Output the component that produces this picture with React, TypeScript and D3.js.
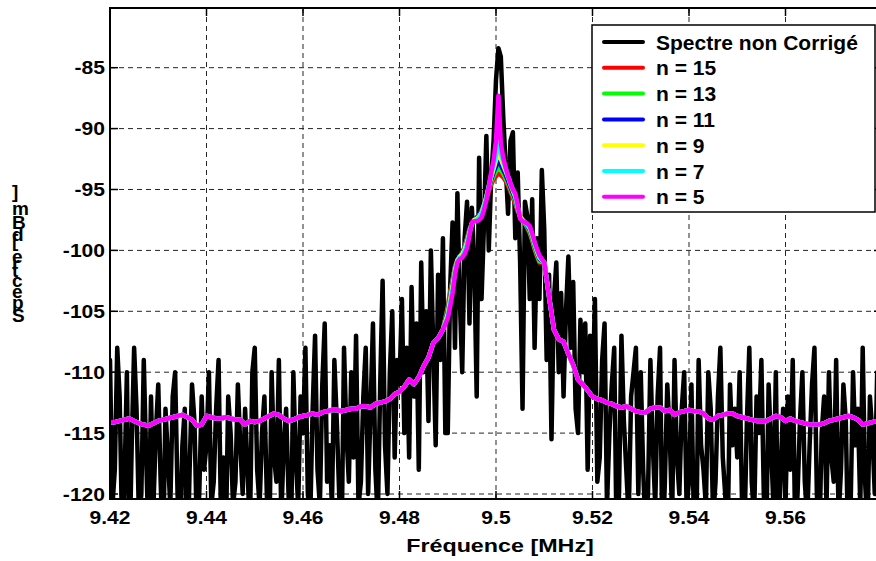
import React from 'react';
import * as d3 from 'd3';

const W = 876;
const H = 561;

// ---------- axis data ----------
const xTicks = [9.42, 9.44, 9.46, 9.48, 9.5, 9.52, 9.54, 9.56];
const xTickLabels = ['9.42', '9.44', '9.46', '9.48', '9.5', '9.52', '9.54', '9.56'];
const yTicks = [-85, -90, -95, -100, -105, -110, -115, -120];
const yTickLabels = ['-85', '-90', '-95', '-100', '-105', '-110', '-115', '-120'];
const xLabel = 'Fréquence [MHz]';
const yLabel = 'Spectre [dBm]';

// ---------- raw spectrum (step 0.0005 MHz from 9.42) ----------
const blackStart = 9.42;
const blackStep = 0.0005;
const rawSpectrum = [
  // 9.420
  -109, -121, -118, -108, -112, -123, -119, -110, -126, -116, -108, -113, -122, -120, -109, -117, -124, -112, -121, -115,
  // 9.430
  -111, -119, -125, -113, -117, -121, -112, -110, -120, -124, -116, -113, -127, -118, -111, -114, -123, -120, -112, -118,
  // 9.440
  -116, -110, -121, -119, -113, -109, -122, -117, -124, -112, -115, -121, -119, -111, -116, -120, -113, -118, -123, -110,
  // 9.450
  -108, -118, -121, -115, -112, -120, -125, -110, -117, -119, -109, -122, -116, -113, -120, -124, -110, -117, -121, -112,
  // 9.460
  -115, -108, -120, -122, -113, -107, -118, -121, -111, -106, -119, -116, -121, -109, -114, -120, -124, -108, -115, -119,
  // 9.470
  -110, -117, -107, -121, -119, -112, -108, -120, -113, -106, -118, -122, -111, -102.5, -116, -120, -110, -105, -117, -109,
  // 9.480
  -111, -104, -115, -108, -117, -103, -112, -106, -118, -101, -110, -105, -114, -100, -108, -116, -102, -109, -99, -115,
  // 9.490
  -115, -103, -97.7, -108, -95.3, -104, -110, -99, -96, -106, -96.5, -101, -112, -92.4, -104, -98, -90.6, -100, -94, -91,
  // 9.500
  -86, -83.4, -84.1, -89, -93, -97, -91, -90.3, -99, -93.6, -101, -113, -96, -97.2, -104, -95.8, -108, -99, -104, -93.4,
  // 9.510
  -98.3, -109, -102, -115.5, -104, -101, -110, -103.5, -112, -105, -100.5, -108, -102.6, -113, -115, -105.7, -110, -106, -118, -107,
  // 9.520
  -112, -104, -119, -117, -109, -106, -121, -115, -111, -108, -124, -120, -107, -114, -118, -122, -112, -110, -108, -120,
  // 9.530
  -110, -118, -123, -120, -109, -116, -121, -112, -108, -125, -119, -111, -115, -122, -109, -117, -120, -113, -110, -121,
  // 9.540
  -119, -111, -122, -124, -109, -116, -118, -121, -110, -113, -122, -119, -112, -108, -117, -120, -124, -111, -116, -113,
  // 9.550
  -117, -110, -121, -123, -114, -108, -119, -122, -112, -115, -109, -120, -124, -111, -116, -121, -110, -125, -118, -113,
  // 9.560
  -121, -112, -118, -109, -123, -120, -114, -110, -119, -122, -116, -111, -108, -120, -124, -115, -112, -121, -110, -117,
  // 9.570
  -119, -109, -122, -118, -111, -114, -125, -121, -110, -116, -113, -121, -108, -119, -123, -112, -115, -120, -110, -123, -116,
];

// ---------- smoothed spectra ----------
// wings shared (9.420 .. 9.489, step 0.001)
const wingLeft = [
  -114.1, -114.1, -114.0, -113.9, -113.8, -114.0, -114.2, -114.3, -114.4, -114.2,
  -114.0, -113.9, -113.8, -113.7, -113.6, -113.5, -113.7, -113.9, -114.4, -114.3,
  -113.6, -113.7, -113.8, -113.8, -113.7, -113.8, -113.9, -113.9, -114.3, -114.0,
  -114.1, -114.0, -113.8, -113.6, -113.4, -113.5, -113.8, -114.0, -113.9, -113.7,
  -113.6, -113.5, -113.4, -113.5, -113.3, -113.2, -113.1, -113.1, -113.2, -113.1,
  -113.0, -113.0, -112.8, -112.8, -112.9, -112.6, -112.5, -112.4, -112.2, -111.8,
  -111.6, -111.2, -110.6, -111.0, -110.4, -109.5, -108.8, -107.6, -107.2, -106.5,
];
// wings shared (9.510 .. 9.580, step 0.001)
const wingRight = [
  -101.0, -103.8, -106.5, -107.3, -107.5, -108.5, -109.4, -110.6, -111.0, -111.5,
  -112.0, -112.2, -112.3, -112.5, -112.6, -112.8, -112.9, -112.8, -113.0, -113.2,
  -113.3, -113.3, -113.0, -112.9, -112.9, -113.2, -113.1, -113.5, -113.3, -113.2,
  -113.1, -113.2, -113.2, -113.4, -113.8, -113.9, -113.6, -113.5, -113.4, -113.4,
  -113.6, -113.7, -113.8, -113.9, -114.0, -114.0, -114.0, -113.8, -113.6, -113.7,
  -114.0, -113.8, -114.0, -114.1, -114.2, -114.3, -114.3, -114.3, -114.2, -114.0,
  -113.9, -113.8, -113.7, -113.6, -113.7, -113.9, -114.3, -114.2, -114.1, -114.0,
  -114.1,
];
// centre (9.4900 .. 9.5090, step 0.0005), one per smoothing order
const centreN15 = [-104.6, -103.4, -102.4, -101.3, -100.8, -100.5, -100.2, -99.7, -99.0, -98.3, -97.8, -97.5, -97.3, -97.1, -96.8, -96.4, -95.8, -95.2, -94.6, -94.2, -93.9, -93.7, -93.8, -94.0, -94.3, -94.7, -95.2, -95.7, -96.2, -96.8, -97.2, -97.5, -97.8, -98.2, -98.6, -99.2, -99.9, -100.5, -101.0];
const centreN13 = [-104.8, -103.6, -102.5, -101.4, -100.8, -100.5, -100.2, -99.7, -99.1, -98.3, -97.8, -97.5, -97.3, -97.1, -96.8, -96.3, -95.7, -95.0, -94.4, -93.9, -93.5, -93.2, -93.4, -93.7, -94.1, -94.5, -95.0, -95.5, -96.0, -96.7, -97.2, -97.5, -97.8, -98.1, -98.5, -99.1, -99.8, -100.4, -100.9];
const centreN11 = [-105.0, -103.8, -102.7, -101.5, -100.8, -100.5, -100.2, -99.8, -99.2, -98.4, -97.8, -97.5, -97.3, -97.1, -96.8, -96.3, -95.6, -94.9, -94.2, -93.6, -93.1, -92.6, -93.0, -93.4, -93.8, -94.3, -94.8, -95.3, -95.8, -96.6, -97.2, -97.5, -97.7, -98.0, -98.3, -98.9, -99.6, -100.2, -100.7];
const centreN9 = [-105.2, -104.0, -102.9, -101.6, -100.8, -100.5, -100.3, -99.9, -99.3, -98.5, -97.8, -97.5, -97.4, -97.2, -96.9, -96.3, -95.6, -94.8, -94.0, -93.3, -92.6, -92.0, -92.5, -93.0, -93.5, -94.0, -94.6, -95.1, -95.6, -96.5, -97.2, -97.5, -97.7, -97.9, -98.2, -98.8, -99.5, -100.1, -100.6];
const centreN7 = [-105.4, -104.3, -103.2, -101.8, -100.9, -100.6, -100.5, -100.1, -99.5, -98.6, -97.8, -97.6, -97.5, -97.3, -97.0, -96.4, -95.7, -94.7, -93.8, -93.0, -92.2, -91.3, -92.0, -92.7, -93.3, -93.9, -94.5, -95.0, -95.5, -96.4, -97.3, -97.6, -97.7, -97.9, -98.1, -98.7, -99.4, -100.0, -100.5];
const centreN5 = [-105.6, -104.6, -103.5, -102.0, -101.0, -100.7, -100.6, -100.3, -99.8, -98.8, -97.7, -97.6, -97.6, -97.5, -97.3, -96.7, -95.9, -94.8, -93.6, -92.6, -91.0, -87.3, -91.2, -92.4, -93.2, -93.9, -94.5, -95.0, -95.3, -96.3, -97.4, -97.6, -97.7, -97.8, -98.0, -98.6, -99.3, -99.9, -100.4];

const seriesNames = ['Spectre non Corrigé', 'n = 15', 'n = 13', 'n = 11', 'n = 9', 'n = 7', 'n = 5'];
const seriesColors = ['#000000', '#ff0000', '#00ff00', '#0000ff', '#ffff00', '#00ffff', '#ff00ff'];
const centres = [centreN15, centreN13, centreN11, centreN9, centreN7, centreN5];

// sample grids
const blackFreq = rawSpectrum.map((_, i) => blackStart + i * blackStep);
const smoothFreq = [
  ...wingLeft.map((_, i) => 9.42 + i * 0.001),
  ...centreN5.map((_, i) => 9.49 + i * 0.0005),
  ...wingRight.map((_, i) => 9.51 + i * 0.001),
];

// ---------- layout ----------
const plot = { left: 110, right: 882, top: 8, bottom: 499 };
const x = d3.scaleLinear().domain([9.42, 9.58]).range([plot.left, plot.right]);
const y = d3.scaleLinear().domain([-120.41, -80.1]).range([plot.bottom, plot.top]);

const line = d3
  .line<[number, number]>()
  .x((d) => x(d[0]))
  .y((d) => y(d[1]));

export default function App() {
  const blackPts: [number, number][] = blackFreq.map((f, i) => [f, rawSpectrum[i]]);
  const smoothSeries = centres.map((c) => {
    const vals = [...wingLeft, ...c, ...wingRight];
    return smoothFreq.map((f, i) => [f, vals[i]] as [number, number]);
  });

  const font = "'Liberation Sans', Arial, Helvetica, sans-serif";
  const tickScale = 1.17;

  const legendX = 592;
  const legendY = 25;
  const legendW = 283;
  const legendH = 187;
  const rowH = 25.8;

  return (
    <svg
      width={W}
      height={H}
      style={{ position: 'absolute', left: 0, top: 0, background: '#fff' }}
      fontFamily={font}
    >
      <defs>
        <clipPath id="plotClip">
          <rect x={plot.left} y={plot.top} width={plot.right - plot.left} height={plot.bottom - plot.top} />
        </clipPath>
      </defs>
      <rect x={0} y={0} width={W} height={H} fill="#fff" />

      {/* grid */}
      <g stroke="#000" strokeWidth={1} strokeDasharray="5,4" opacity={0.85}>
        {xTicks.map((t) => (
          <line key={'gx' + t} x1={x(t)} x2={x(t)} y1={plot.top} y2={plot.bottom} />
        ))}
        {yTicks.map((t) => (
          <line key={'gy' + t} x1={plot.left} x2={plot.right} y1={y(t)} y2={y(t)} />
        ))}
      </g>

      {/* data */}
      <g clipPath="url(#plotClip)" fill="none" strokeLinejoin="round" strokeLinecap="round">
        <path d={line(blackPts) ?? ''} stroke={seriesColors[0]} strokeWidth={4.5} />
        {smoothSeries.map((pts, i) => (
          <path key={'s' + i} d={line(pts) ?? ''} stroke={seriesColors[i + 1]} strokeWidth={4.5} />
        ))}
      </g>

      {/* ticks */}
      <g stroke="#000" strokeWidth={1.5}>
        {xTicks.map((t) => (
          <g key={'tx' + t}>
            <line x1={x(t)} x2={x(t)} y1={plot.bottom} y2={plot.bottom - 8} />
            <line x1={x(t)} x2={x(t)} y1={plot.top} y2={plot.top + 8} />
          </g>
        ))}
        {yTicks.map((t) => (
          <g key={'ty' + t}>
            <line x1={plot.left} x2={plot.left + 8} y1={y(t)} y2={y(t)} />
            <line x1={plot.right} x2={plot.right - 8} y1={y(t)} y2={y(t)} />
          </g>
        ))}
      </g>

      {/* axes box */}
      <rect
        x={plot.left}
        y={plot.top}
        width={plot.right - plot.left}
        height={plot.bottom - plot.top}
        fill="none"
        stroke="#000"
        strokeWidth={2}
      />

      {/* tick labels */}
      <g fontWeight="bold" fontSize={18} fill="#000">
        {xTicks.map((t, i) => (
          <text key={'lx' + t} transform={`translate(${x(t)},524) scale(${tickScale},1)`} textAnchor="middle">
            {xTickLabels[i]}
          </text>
        ))}
        {yTicks.map((t, i) => (
          <text key={'ly' + t} transform={`translate(105,${y(t) + 6.5}) scale(${tickScale},1)`} textAnchor="end">
            {yTickLabels[i]}
          </text>
        ))}
      </g>

      {/* x label */}
      <text
        transform={`translate(500,552) scale(1.26,1)`}
        textAnchor="middle"
        fontWeight="bold"
        fontSize={18.5}
      >
        {xLabel}
      </text>

      {/* y label: rotated text whose glyphs stay upright */}
      <text
        transform="translate(12,322) rotate(-90)"
        rotate="90"
        fontWeight="bold"
        fontSize={19}
      >
        {yLabel}
      </text>

      {/* legend */}
      <rect x={legendX} y={legendY} width={legendW} height={legendH} fill="#fff" stroke="#000" strokeWidth={1.5} />
      {seriesNames.map((name, i) => {
        const cy = 42 + i * rowH;
        return (
          <g key={'lg' + i}>
            <line x1={604} x2={643} y1={cy} y2={cy} stroke={seriesColors[i]} strokeWidth={4} strokeLinecap="round" />
            <text x={656} y={cy + 7.5} fontWeight="bold" fontSize={21}>
              {name}
            </text>
          </g>
        );
      })}
    </svg>
  );
}
